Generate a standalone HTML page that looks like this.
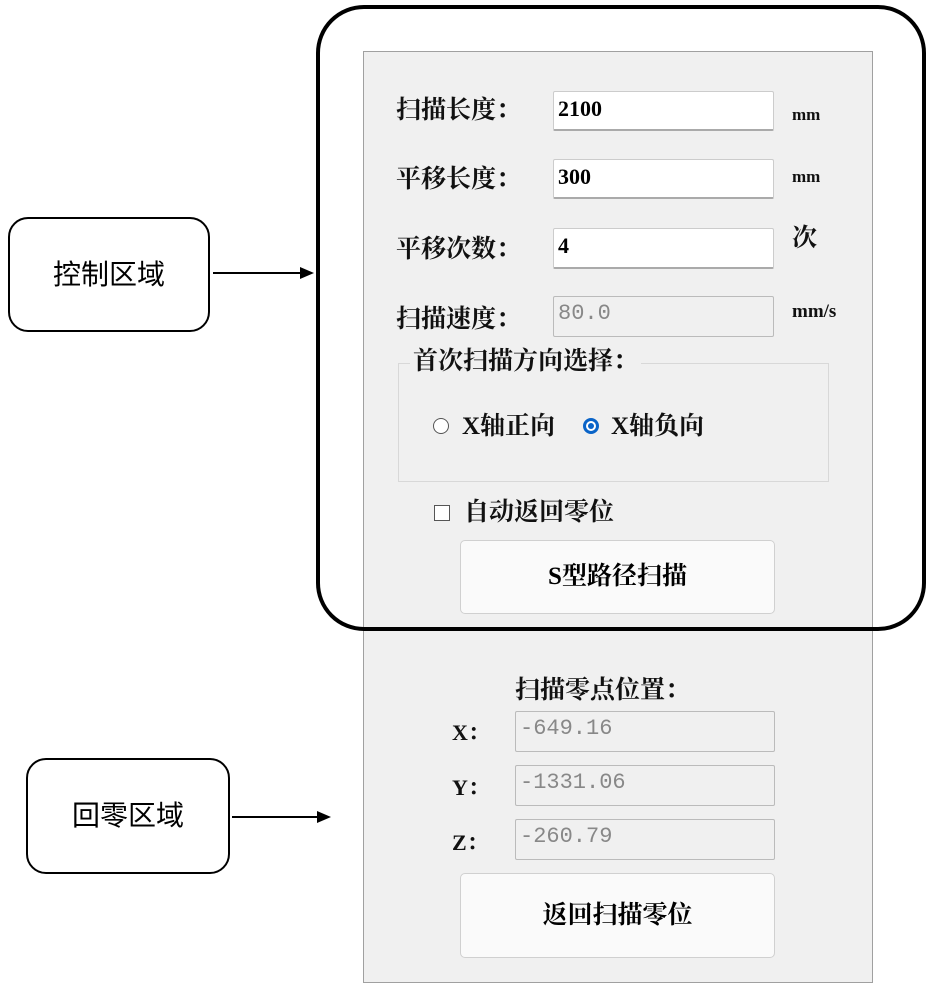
<!DOCTYPE html>
<html><head><meta charset="utf-8"><style>
body{margin:0;width:930px;height:963px;background:#fff;position:relative;overflow:hidden;font-family:"Liberation Serif","Noto Serif CJK SC","Noto Sans CJK SC",serif;}
.a{position:absolute;}
.panel{left:363px;top:51px;width:508px;height:930px;background:#f0f0f0;border:1px solid #a0a0a0;}
.lbl{font-size:25px;font-weight:bold;color:#111;line-height:30px;white-space:nowrap;}
.inp{background:#fff;border:1px solid #ccc;border-bottom:2px solid #aaa;border-radius:2px;font-size:22px;font-weight:bold;padding-left:4px;box-sizing:border-box;line-height:34px;}
.dis{background:#f0f0f0;border:1px solid #bbb;color:#888;font-weight:normal;font-family:"Liberation Mono",monospace;font-size:22px;}
.btn{background:#fafafa;border:1px solid #d0d0d0;border-radius:5px;text-align:center;font-size:25px;font-weight:bold;}
.box{border:2px solid #000;border-radius:20px;background:#fff;text-align:center;font-family:"Liberation Sans","Noto Sans CJK SC",sans-serif;font-size:28px;}
</style></head><body>
<div class="a panel"></div>
<div class="a" style="left:316px;top:5px;width:602px;height:618px;border:4px solid #000;border-radius:48px;"></div>

<div class="a lbl" style="left:396px;top:96px">扫描长度：</div>
<div class="a inp" style="left:553px;top:91px;width:221px;height:40px">2100</div>
<div class="a lbl" style="left:792px;top:100px;font-size:17px">mm</div>
<div class="a lbl" style="left:396px;top:165px">平移长度：</div>
<div class="a inp" style="left:553px;top:159px;width:221px;height:40px">300</div>
<div class="a lbl" style="left:792px;top:162px;font-size:17px">mm</div>
<div class="a lbl" style="left:396px;top:235px">平移次数：</div>
<div class="a inp" style="left:553px;top:228px;width:221px;height:41px">4</div>
<div class="a lbl" style="left:792px;top:224px">次</div>
<div class="a lbl" style="left:396px;top:305px">扫描速度：</div>
<div class="a inp dis" style="left:553px;top:296px;width:221px;height:41px">80.0</div>
<div class="a lbl" style="left:792px;top:297px;font-size:19px">mm/s</div>

<div class="a" style="left:398px;top:363px;width:429px;height:117px;border:1px solid #d8d8d8;"></div>
<div class="a lbl" style="left:410px;top:347px;background:#f0f0f0;padding:0 3px">首次扫描方向选择：</div>
<div class="a" style="left:433px;top:418px;width:14px;height:14px;border:1px solid #555;border-radius:50%;background:#fff"></div>
<div class="a lbl" style="left:462px;top:412px">X轴正向</div>
<div class="a" style="left:583px;top:418px;width:10px;height:10px;border:3px solid #0a64c8;border-radius:50%;background:#fff"></div>
<div class="a" style="left:588px;top:423px;width:6px;height:6px;border-radius:50%;background:#0a64c8"></div>
<div class="a lbl" style="left:611px;top:412px">X轴负向</div>
<div class="a" style="left:434px;top:505px;width:14px;height:14px;border:1px solid #555;background:#fff"></div>
<div class="a lbl" style="left:464px;top:498px">自动返回零位</div>
<div class="a btn" style="left:460px;top:540px;width:313px;height:72px;line-height:72px">S型路径扫描</div>

<div class="a lbl" style="left:515px;top:676px">扫描零点位置：</div>
<div class="a lbl" style="left:452px;top:718px;font-size:22px">X：</div>
<div class="a inp dis" style="left:515px;top:711px;width:260px;height:41px">-649.16</div>
<div class="a lbl" style="left:452px;top:773px;font-size:22px">Y：</div>
<div class="a inp dis" style="left:515px;top:765px;width:260px;height:41px">-1331.06</div>
<div class="a lbl" style="left:452px;top:828px;font-size:22px">Z：</div>
<div class="a inp dis" style="left:515px;top:819px;width:260px;height:41px">-260.79</div>
<div class="a btn" style="left:460px;top:873px;width:313px;height:83px;line-height:83px">返回扫描零位</div>

<div class="a box" style="left:8px;top:217px;width:198px;height:111px;line-height:111px">控制区域</div>
<div class="a box" style="left:26px;top:758px;width:200px;height:112px;line-height:112px">回零区域</div>
<svg class="a" style="left:0;top:0" width="930" height="963">
<line x1="213" y1="273" x2="302" y2="273" stroke="#000" stroke-width="2"/>
<polygon points="314,273 300,267 300,279" fill="#000"/>
<line x1="232" y1="817" x2="318" y2="817" stroke="#000" stroke-width="2"/>
<polygon points="331,817 317,811 317,823" fill="#000"/>
</svg>
</body></html>
